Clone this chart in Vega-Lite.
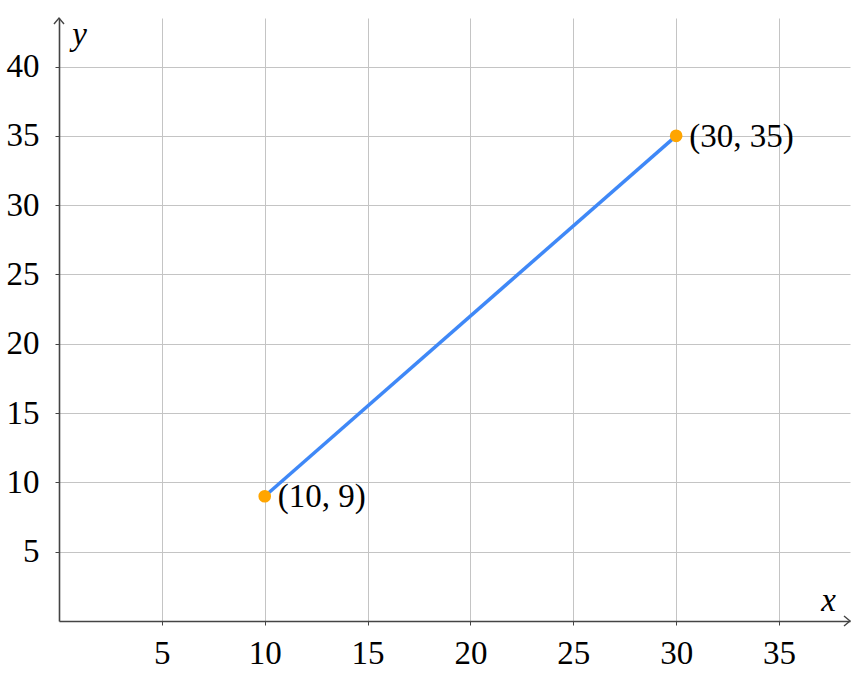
{
  "$schema": "https://vega.github.io/schema/vega-lite/v6.json",
  "width": 791,
  "height": 603,
  "autosize": "none",
  "padding": {"left": 59, "top": 18, "right": 10, "bottom": 55},
  "background": "white",
  "config": {"view": {"stroke": null}, "font": "Liberation Serif"},
  "datasets": {
    "pts": [
      {"x": 10, "y": 9, "label": "(10, 9)"},
      {"x": 30, "y": 35, "label": "(30, 35)"}
    ],
    "arrows": [
      {"x": 38.45, "y": 0, "dir": "x"},
      {"x": 0, "y": 43.5, "dir": "y"}
    ]
  },
  "layer": [
    {
      "data": {"name": "pts"},
      "mark": {"type": "line", "color": "#3f88f7", "strokeWidth": 3.5},
      "encoding": {
        "x": {
          "field": "x", "type": "quantitative",
          "scale": {"domain": [0, 38.45], "nice": false, "zero": true},
          "axis": {
            "values": [5, 10, 15, 20, 25, 30, 35],
            "grid": true, "gridColor": "#c4c4c4", "gridWidth": 1,
            "domainColor": "#444444", "domainWidth": 1.6,
            "tickColor": "#444444", "tickSize": 4, "tickWidth": 1,
            "labelFont": "Liberation Serif", "labelFontSize": 33, "labelColor": "#000000",
            "labelBaseline": "alphabetic", "labelPadding": 38,
            "title": "x", "titleFont": "Liberation Serif", "titleFontSize": 33,
            "titleFontStyle": "italic", "titleFontWeight": "normal", "titleColor": "#000000",
            "titleX": 769, "titleY": -11, "titleAlign": "center", "titleBaseline": "alphabetic"
          }
        },
        "y": {
          "field": "y", "type": "quantitative",
          "scale": {"domain": [0, 43.5], "nice": false, "zero": true},
          "axis": {
            "values": [5, 10, 15, 20, 25, 30, 35, 40],
            "grid": true, "gridColor": "#c4c4c4", "gridWidth": 1,
            "domainColor": "#444444", "domainWidth": 1.6,
            "tickColor": "#444444", "tickSize": 4, "tickWidth": 1,
            "labelFont": "Liberation Serif", "labelFontSize": 33, "labelColor": "#000000",
            "labelPadding": 16,
            "title": "y", "titleFont": "Liberation Serif", "titleFontSize": 33,
            "titleFontStyle": "italic", "titleFontWeight": "normal", "titleColor": "#000000",
            "titleAngle": 0, "titleX": 20, "titleY": 26, "titleAlign": "center", "titleBaseline": "alphabetic"
          }
        }
      }
    },
    {
      "data": {"name": "pts"},
      "mark": {"type": "point", "filled": true, "color": "#ffa500", "size": 160, "opacity": 1},
      "encoding": {
        "x": {"field": "x", "type": "quantitative"},
        "y": {"field": "y", "type": "quantitative"}
      }
    },
    {
      "data": {"name": "pts"},
      "mark": {"type": "text", "align": "left", "baseline": "middle", "dx": 13, "dy": 1, "fontSize": 33, "font": "Liberation Serif", "color": "#000000"},
      "encoding": {
        "x": {"field": "x", "type": "quantitative"},
        "y": {"field": "y", "type": "quantitative"},
        "text": {"field": "label"}
      }
    },
    {
      "data": {"name": "arrows"},
      "mark": {"type": "point", "filled": false, "stroke": "#444444", "strokeWidth": 1.4, "size": 100, "opacity": 1},
      "encoding": {
        "x": {"field": "x", "type": "quantitative"},
        "y": {"field": "y", "type": "quantitative"},
        "shape": {
          "field": "dir", "type": "nominal",
          "scale": {"domain": ["x", "y"], "range": ["M -1.2 -1 L 0 0 L -1.2 1", "M -1 1.2 L 0 0 L 1 1.2"]},
          "legend": null
        }
      }
    }
  ]
}
